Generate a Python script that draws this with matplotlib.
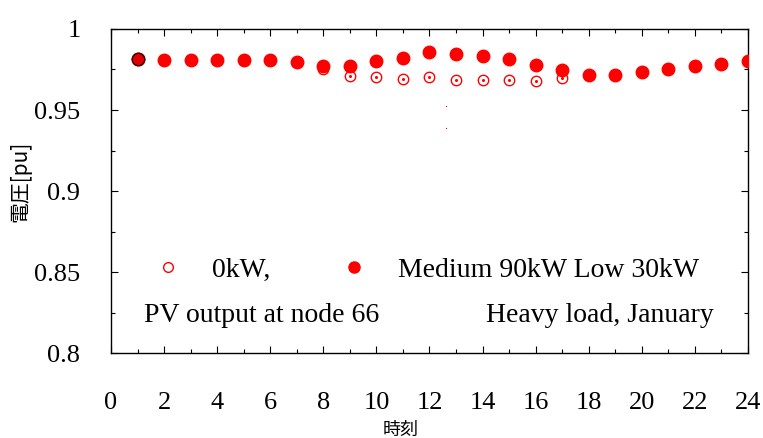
import matplotlib
matplotlib.use("Agg")
import matplotlib.pyplot as plt
from matplotlib.ticker import MultipleLocator
from matplotlib.lines import Line2D

hours = list(range(1, 25))
pv_0kw = [0.9813, 0.981, 0.981, 0.981, 0.981, 0.981, 0.9794, 0.9755, 0.971, 0.9702,
          0.969, 0.9706, 0.9685, 0.9683, 0.9685, 0.9681, 0.9698, 0.9718, 0.9716, 0.9733,
          0.9751, 0.977, 0.9784, 0.9804]
pv_med90_low30 = [0.9813, 0.981, 0.981, 0.981, 0.981, 0.981, 0.9794, 0.9772, 0.9773, 0.9804,
                  0.9823, 0.9856, 0.9846, 0.9831, 0.9815, 0.9776, 0.9749, 0.9718, 0.9716, 0.9733,
                  0.9751, 0.977, 0.9784, 0.9804]
stray_x = [12.63, 12.63]
stray_y = [0.9527, 0.939]

xticks = list(range(0, 25, 2))
yticks = [0.8, 0.85, 0.9, 0.95, 1.0]
ytick_labels = ["0.8", "0.85", "0.9", "0.95", "1"]

serif = "Liberation Serif"
cjk = ["Noto Sans CJK JP", "DejaVu Sans"]

fig = plt.figure(figsize=(7.63, 4.38), dpi=100)
ax = fig.add_axes([0.1455, 0.194, 0.8348, 0.7398])

red = "#ff0000"
# open circles (0 kW)
ax.plot(hours, pv_0kw, linestyle="none", marker="o", markersize=7.5,
        markerfacecolor="none", markeredgecolor=red, markeredgewidth=1.0, zorder=3)
ax.plot(hours, pv_0kw, linestyle="none", marker="o", markersize=1.2,
        markerfacecolor=red, markeredgecolor=red, zorder=3)
# filled circles
ax.plot(hours, pv_med90_low30, linestyle="none", marker="o", markersize=9,
        markerfacecolor=red, markeredgecolor=red, zorder=4)
# first point has a dark outline
ax.plot(hours[:1], pv_med90_low30[:1], linestyle="none", marker="o", markersize=9,
        markerfacecolor="#e00000", markeredgecolor="#300000", markeredgewidth=1.0, zorder=5)
ax.plot(stray_x, stray_y, linestyle="none", marker="s", markersize=0.8,
        markerfacecolor=red, markeredgecolor="none", zorder=3)

ax.set_xlim(0, 24)
ax.set_ylim(0.8, 1.0)
ax.set_xticks(xticks)
ax.set_xticklabels([str(t) for t in xticks], fontfamily=serif, fontsize=19)
ax.set_yticks(yticks)
ax.set_yticklabels(ytick_labels, fontfamily=serif, fontsize=19)
ax.xaxis.set_minor_locator(MultipleLocator(1))
ax.yaxis.set_minor_locator(MultipleLocator(0.025))
ax.tick_params(which="both", direction="in", top=True, right=True, width=0.8)
ax.tick_params(which="major", length=5)
ax.tick_params(which="minor", length=3)
ax.tick_params(axis="x", which="major", pad=28)
ax.tick_params(axis="y", which="major", pad=22)
for s in ax.spines.values():
    s.set_linewidth(1.0)

ax.set_xlabel("時刻", fontfamily=cjk, fontsize=13)
ax.xaxis.set_label_coords(0.455, -0.21)
ax.set_ylabel("電圧[pu]", fontfamily=cjk, fontsize=15)
ax.yaxis.set_label_coords(-0.125, 0.53)

h_open = Line2D([], [], linestyle="none", marker="o", markersize=7,
                markerfacecolor="none", markeredgecolor=red, markeredgewidth=1.0)
h_fill = Line2D([], [], linestyle="none", marker="o", markersize=8,
                markerfacecolor=red, markeredgecolor=red)
leg = ax.legend([h_open, h_fill], ["0kW,", "Medium 90kW Low 30kW"], ncol=2,
                frameon=False, loc="center left", bbox_to_anchor=(0.05, 0.255),
                prop={"family": serif, "size": 20}, handlelength=1.0,
                handletextpad=1.1, columnspacing=2.5, borderaxespad=0)

ax.text(0.052, 0.117, "PV output at node 66", transform=ax.transAxes,
        fontfamily=serif, fontsize=20, va="center", ha="left")
ax.text(0.946, 0.117, "Heavy load, January", transform=ax.transAxes,
        fontfamily=serif, fontsize=20, va="center", ha="right")

fig.savefig("out.png", dpi=100)
